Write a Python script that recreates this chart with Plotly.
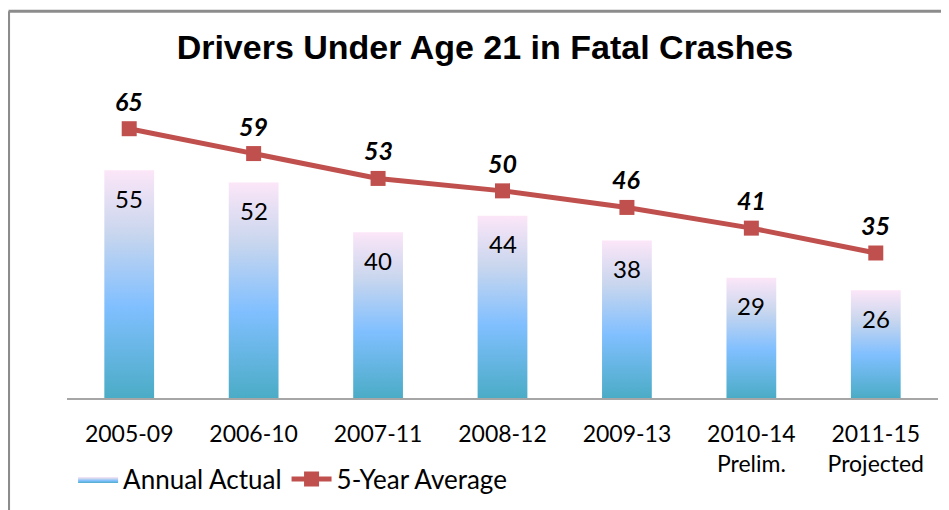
import plotly.graph_objects as go

periods = ["2005-09", "2006-10", "2007-11", "2008-12", "2009-13", "2010-14<br>Prelim.", "2011-15<br>Projected"]
annual_actual = [55, 52, 40, 44, 38, 29, 26]
five_year_avg = [65, 59, 53, 50, 46, 41, 35]

bar_scale = [[0, "#4BACC6"], [0.4, "#80BFFF"], [0.72, "#C8D6EE"], [1, "#FCE6F8"]]
red = "#C0504D"
label_font = "Lato"

fig = go.Figure()

# bars drawn as filled shapes so each one can carry a vertical gradient
half = 0.2
for i, v in enumerate(annual_actual):
    fig.add_trace(go.Scatter(
        x=[i - half, i - half, i + half, i + half, i - half],
        y=[0, v, v, 0, 0],
        mode="lines",
        fill="toself",
        fillgradient=dict(type="vertical", colorscale=bar_scale),
        line=dict(width=0),
        name="Annual Actual",
        legendgroup="actual",
        showlegend=(i == 0),
        hoverinfo="skip",
    ))

fig.add_trace(go.Scatter(
    x=list(range(len(periods))),
    y=five_year_avg,
    mode="lines+markers",
    line=dict(color=red, width=5),
    marker=dict(symbol="square", size=15, color=red),
    name="5-Year Average",
))

# value labels
for i, v in enumerate(annual_actual):
    fig.add_annotation(x=i, y=v, text=str(v), showarrow=False, yshift=-28,
                       font=dict(family=label_font, size=24, color="#000000"))
for i, v in enumerate(five_year_avg):
    fig.add_annotation(x=i, y=v, text=f"<b><i>{v}</i></b>", showarrow=False, yshift=28,
                       font=dict(family=label_font, size=25, color="#000000"))

# chart frame (only top and left edges show in the picture)
fig.add_shape(type="line", xref="paper", yref="paper", x0=-0.0671, x1=1.05, y0=1.334, y1=1.334,
              line=dict(color="#8C8C8C", width=3))
fig.add_shape(type="line", xref="paper", yref="paper", x0=-0.0671, x1=-0.0671, y0=1.334, y1=-0.5,
              line=dict(color="#8C8C8C", width=3))

# page body adds an 8px offset, so margins are pulled in by that much
fig.update_layout(
    width=949, height=510,
    margin=dict(l=59, r=18.5, t=100, b=119.5),
    paper_bgcolor="white",
    plot_bgcolor="white",
    title=dict(text="<b>Drivers Under Age 21 in Fatal Crashes</b>", x=0.5026, xanchor="center",
               y=0.9235, yanchor="middle", yref="container",
               font=dict(family="Liberation Sans", size=34, color="#000000")),
    xaxis=dict(range=[-0.5, len(periods) - 0.5], tickmode="array",
               tickvals=list(range(len(periods))), ticktext=periods,
               showgrid=False, zeroline=False, showline=True, linecolor="#A6A6A6", linewidth=2,
               ticks="outside", ticklen=0, ticklabelstandoff=14,
               tickfont=dict(family=label_font, size=23, color="#000000")),
    yaxis=dict(range=[0, 70], visible=False, showgrid=False, zeroline=False),
    legend=dict(orientation="h", x=0.007, xanchor="left", y=-0.28, yanchor="middle",
                font=dict(family=label_font, size=26, color="#000000"),
                itemwidth=40, bgcolor="rgba(0,0,0,0)"),
    showlegend=True,
)

fig.write_html("out.html")
